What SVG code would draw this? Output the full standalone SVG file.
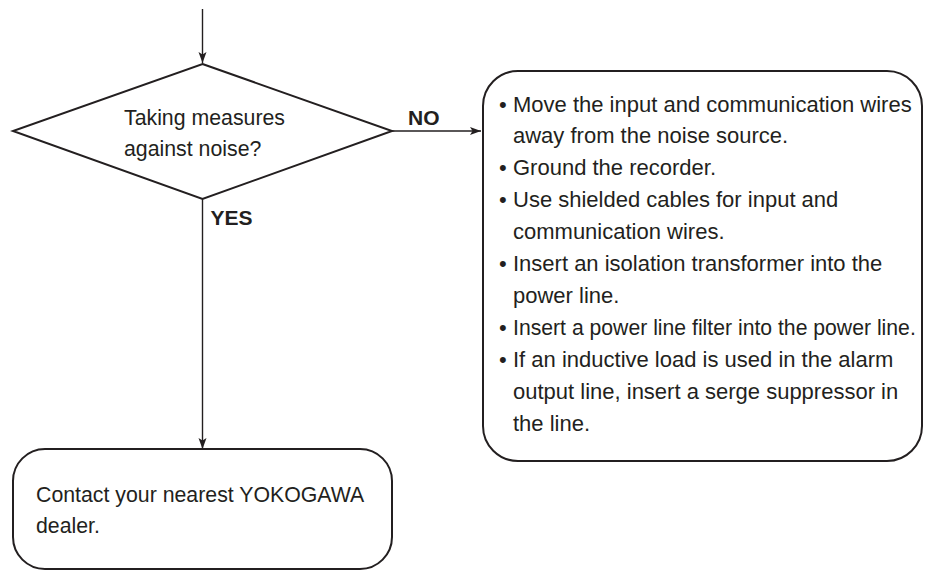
<svg xmlns="http://www.w3.org/2000/svg" width="925" height="570" viewBox="0 0 925 570">
<style>
.shape{fill:#fff;stroke:#231f20;stroke-width:2}
.conn{fill:none;stroke:#231f20;stroke-width:1.4}
.t{font-family:"Liberation Sans",Arial,sans-serif;font-size:21.3px;fill:#231f20}
.tb{font-family:"Liberation Sans",Arial,sans-serif;font-size:21px;font-weight:bold;fill:#231f20}
.tr{font-family:"Liberation Sans",Arial,sans-serif;font-size:22px;fill:#231f20}
</style>
<defs>
<marker id="arr" markerUnits="userSpaceOnUse" markerWidth="12" markerHeight="9" refX="11" refY="4" orient="auto">
<path d="M0,0 L11,4 L0,8 L2.5,4 Z" fill="#231f20"/>
</marker>
</defs>
<rect width="925" height="570" fill="#fff"/>
<g id="connectors">
<line class="conn" x1="202.5" y1="9" x2="202.5" y2="63" marker-end="url(#arr)"/>
<line class="conn" x1="392" y1="131" x2="481" y2="131" marker-end="url(#arr)"/>
<line class="conn" x1="202.5" y1="199" x2="202.5" y2="449" marker-end="url(#arr)"/>
<text class="tb" x="408" y="125">NO</text>
<text class="tb" x="210.5" y="225">YES</text>
</g>
<g id="decision">
<polygon class="shape" points="202.5,64 392,131 202.5,199 13,131"/>
<text class="t" x="124" y="124.5">Taking measures</text>
<text class="t" x="124" y="155.5">against noise?</text>
</g>
<g id="measures">
<rect class="shape" x="483" y="71" width="439" height="390" rx="35" ry="35"/>
<g class="tr">
<text x="499" y="111.5">•</text><text x="513" y="111.5">Move the input and communication wires</text>
<text x="513" y="143.4">away from the noise source.</text>
<text x="499" y="175.3">•</text><text x="513" y="175.3">Ground the recorder.</text>
<text x="499" y="207.2">•</text><text x="513" y="207.2">Use shielded cables for input and</text>
<text x="513" y="239.1">communication wires.</text>
<text x="499" y="271">•</text><text x="513" y="271">Insert an isolation transformer into the</text>
<text x="513" y="302.9">power line.</text>
<text x="499" y="334.8">•</text><text x="513" y="334.8" style="font-size:21.2px">Insert a power line filter into the power line.</text>
<text x="499" y="366.7">•</text><text x="513" y="366.7">If an inductive load is used in the alarm</text>
<text x="513" y="398.6">output line, insert a serge suppressor in</text>
<text x="513" y="430.5">the line.</text>
</g>
</g>
<g id="contact">
<rect class="shape" x="13" y="449" width="379" height="120" rx="32" ry="32"/>
<text class="t" x="36" y="501.5">Contact your nearest YOKOGAWA</text>
<text class="t" x="36" y="533.3">dealer.</text>
</g>
</svg>
